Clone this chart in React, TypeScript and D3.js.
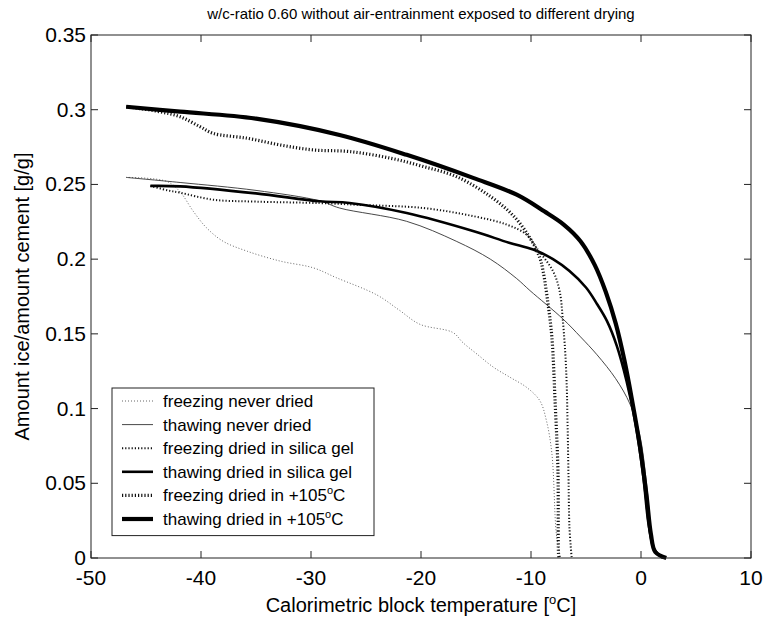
import React from "react";
import * as d3 from "d3";

const chartTitle = "w/c-ratio 0.60 without air-entrainment exposed to different drying";
const xTitle = "Calorimetric block temperature [";
const yTitle = "Amount ice/amount cement [g/g]";
const xTicks = [-50, -40, -30, -20, -10, 0, 10];
const yTicks = [0, 0.05, 0.1, 0.15, 0.2, 0.25, 0.3, 0.35];
const yTickLabels = ["0", "0.05", "0.1", "0.15", "0.2", "0.25", "0.3", "0.35"];

const legendLabels = [
  "freezing never dried",
  "thawing never dried",
  "freezing dried in silica gel",
  "thawing dried in silica gel",
  "freezing dried in +105",
  "thawing dried in +105",
];

const freezingNeverDried: [number, number][] = [
  [-46.8, 0.2547], [-43.1, 0.252], [-41.9, 0.245], [-40.7, 0.232], [-39.5, 0.221],
  [-38, 0.212], [-35.8, 0.2053], [-32.8, 0.1987], [-29.8, 0.1942], [-27.7, 0.1876],
  [-24, 0.176], [-22, 0.166], [-20.1, 0.1564], [-17.1, 0.1509], [-16.2, 0.1442],
  [-14.9, 0.1364], [-13.4, 0.1276], [-11.9, 0.1209], [-10.4, 0.1142], [-9.2, 0.1053],
  [-8.6, 0.092], [-8.1, 0.0698], [-7.7, 0.0164], [-7.4, 0.003], [-7.3, 0],
];

const thawingNeverDried: [number, number][] = [
  [-46.8, 0.2547], [-41.9, 0.2513], [-35, 0.246], [-29.2, 0.239], [-27.4, 0.2342],
  [-21.3, 0.2253], [-16.8, 0.212], [-13.7, 0.2], [-11.3, 0.187], [-10.1, 0.179],
  [-7.1, 0.16], [-5.5, 0.148], [-4, 0.136], [-2.3, 0.12], [-1, 0.103],
  [-0.1, 0.082], [0.5, 0.05], [0.9, 0.02], [1.3, 0.005], [2.0, 0],
];

const freezingSilica: [number, number][] = [
  [-44.6, 0.249], [-43, 0.246], [-41.9, 0.2445], [-38.9, 0.2398], [-35, 0.2385],
  [-29.2, 0.2375], [-25.8, 0.2364], [-19.8, 0.2342], [-15.2, 0.2287], [-12.2, 0.2231],
  [-10.4, 0.2164], [-9.5, 0.2075], [-8.0, 0.192], [-7.4, 0.1787], [-7.1, 0.1587],
  [-6.8, 0.125], [-6.6, 0.0587], [-6.5, 0.02], [-6.3, 0],
];

const thawingSilica: [number, number][] = [
  [-44.6, 0.249], [-41.9, 0.2487], [-35, 0.244], [-29.2, 0.2387], [-26.5, 0.2376],
  [-21.3, 0.2309], [-15.2, 0.2187], [-12, 0.211], [-9.8, 0.2064], [-8, 0.2],
  [-6.5, 0.192], [-5, 0.181], [-4, 0.17], [-3.1, 0.1587], [-2.2, 0.142],
  [-1.3, 0.118], [-0.5, 0.09], [0.2, 0.055], [0.7, 0.022], [1.2, 0.006], [2.0, 0],
];

const freezing105: [number, number][] = [
  [-46.8, 0.302], [-44, 0.299], [-41.9, 0.2953], [-40.1, 0.2887], [-38.9, 0.2842],
  [-35.8, 0.2809], [-32.8, 0.2764], [-29.8, 0.2731], [-26.5, 0.272], [-22.8, 0.2676],
  [-19.8, 0.262], [-16.8, 0.2553], [-13.7, 0.242], [-11.6, 0.229], [-10.1, 0.2142],
  [-9.2, 0.2009], [-8.9, 0.192], [-8.45, 0.17], [-8.1, 0.1475], [-7.8, 0.103],
  [-7.55, 0.0587], [-7.5, 0.003], [-7.45, 0],
];

const thawing105: [number, number][] = [
  [-46.8, 0.302], [-41.9, 0.2987], [-35, 0.294], [-27.4, 0.2831], [-21.3, 0.2698],
  [-15.2, 0.2542], [-11.3, 0.2431], [-8.8, 0.232], [-7, 0.223], [-5.5, 0.212],
  [-4.2, 0.196], [-3.2, 0.178], [-2.3, 0.157], [-1.5, 0.132], [-0.8, 0.105],
  [-0.1, 0.075], [0.5, 0.042], [0.9, 0.016], [1.3, 0.004], [2.3, 0],
];

const seriesData = [freezingNeverDried, thawingNeverDried, freezingSilica, thawingSilica, freezing105, thawing105];
const seriesStyles = [
  { stroke: "#666", width: 1, dash: "1,2" },
  { stroke: "#333", width: 0.9, dash: "" },
  { stroke: "#111", width: 2, dash: "1.2,2" },
  { stroke: "#000", width: 2.6, dash: "" },
  { stroke: "#111", width: 3.2, dash: "1.2,2" },
  { stroke: "#000", width: 4.2, dash: "" },
];

const W = 769;
const H = 623;
const L = 91, R = 751, T = 35, B = 558;
const FONT = "'Liberation Sans', Arial, Helvetica, sans-serif";

export default function App() {
  const x = d3.scaleLinear().domain([-50, 10]).range([L, R]);
  const y = d3.scaleLinear().domain([0, 0.35]).range([B, T]);
  const line = d3
    .line<[number, number]>()
    .x((d) => x(d[0]))
    .y((d) => y(d[1]))
    .curve(d3.curveCatmullRom.alpha(0.5));

  const tickLen = 7;
  const legX = 112, legY = 388, legW = 262, rowH = 23.6;

  return (
    <svg width={W} height={H} style={{ display: "block", position: "absolute", left: 0, top: 0, background: "#fff" }} fontFamily={FONT}>
      <rect x={0} y={0} width={W} height={H} fill="#fff" />
      <text x={(L + R) / 2} y={19} textAnchor="middle" fontSize={15} fill="#000">{chartTitle}</text>

      {seriesData.map((d, i) => (
        <path key={i} d={line(d) || ""} fill="none" stroke={seriesStyles[i].stroke}
          strokeWidth={seriesStyles[i].width} strokeDasharray={seriesStyles[i].dash || undefined}
          strokeLinejoin="round" />
      ))}

      <rect x={L} y={T} width={R - L} height={B - T} fill="none" stroke="#222" strokeWidth={1} />
      {xTicks.map((t) => (
        <g key={"x" + t}>
          <line x1={x(t)} x2={x(t)} y1={B} y2={B - tickLen} stroke="#222" />
          <line x1={x(t)} x2={x(t)} y1={T} y2={T + tickLen} stroke="#222" />
          <text x={x(t)} y={585} textAnchor="middle" fontSize={21} fill="#000">{t}</text>
        </g>
      ))}
      {yTicks.map((t, i) => (
        <g key={"y" + t}>
          <line x1={L} x2={L + tickLen} y1={y(t)} y2={y(t)} stroke="#222" />
          <line x1={R} x2={R - tickLen} y1={y(t)} y2={y(t)} stroke="#222" />
          <text x={L - 5} y={y(t) + 7} textAnchor="end" fontSize={21} fill="#000">{yTickLabels[i]}</text>
        </g>
      ))}

      <text x={(L + R) / 2} y={612} textAnchor="middle" fontSize={20} fill="#000">
        {xTitle}
        <tspan dy={-8} fontSize={13}>o</tspan>
        <tspan dy={8}>C]</tspan>
      </text>
      <text transform={`translate(29,${(T + B) / 2}) rotate(-90)`} textAnchor="middle" fontSize={20} fill="#000">{yTitle}</text>

      <rect x={legX} y={legY} width={legW} height={rowH * 6 + 6} fill="#fff" stroke="#222" strokeWidth={1} />
      {legendLabels.map((lab, i) => {
        const cy = legY + 13 + i * rowH;
        const s = seriesStyles[i];
        return (
          <g key={"l" + i}>
            <line x1={122} x2={153} y1={cy} y2={cy} stroke={s.stroke} strokeWidth={s.width} strokeDasharray={s.dash || undefined} />
            <text x={163} y={cy + 6} fontSize={17} fill="#000">
              {lab}
              {i >= 4 ? (
                <>
                  <tspan dy={-7} fontSize={11}>o</tspan>
                  <tspan dy={7}>C</tspan>
                </>
              ) : null}
            </text>
          </g>
        );
      })}
    </svg>
  );
}
